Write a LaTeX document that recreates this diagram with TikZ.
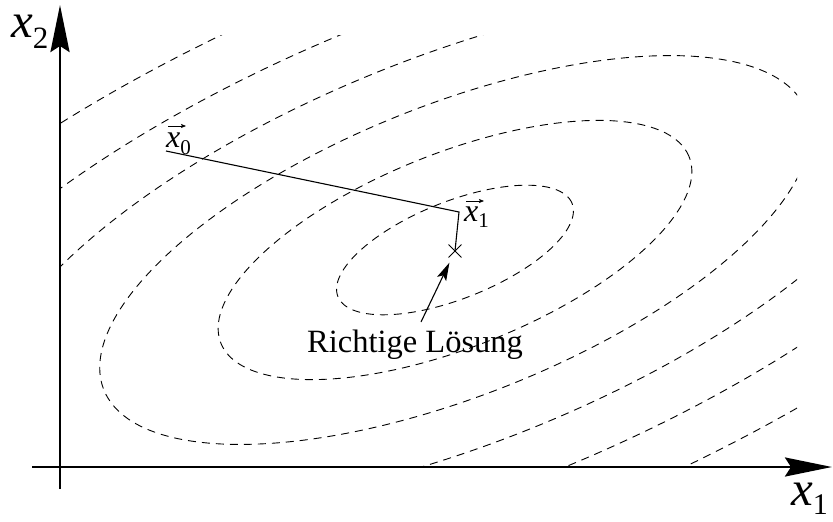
\documentclass[tikz,border=0pt]{standalone}
\usepackage{fontspec}
\setmainfont{Liberation Serif}
\usetikzlibrary{arrows.meta,shapes.misc}
\tikzset{
  contour/.style={line width=0.9pt, dash pattern=on 8pt off 6pt},
  axisline/.style={line width=2.6pt, -{Stealth[length=47pt,width=19pt,inset=6pt]}},
  pathline/.style={line width=1.1pt},
  pointer/.style={line width=1.1pt, -{Stealth[length=18pt,width=10pt,inset=4pt]}},
  vecarrow/.style={line width=0.8pt, -{Stealth[length=5pt,width=4pt,inset=1pt]}},
  biglabel/.style={anchor=base west, inner sep=0pt},
  smalllabel/.style={anchor=base west, inner sep=0pt},
}
\begin{document}
\begin{tikzpicture}[x=1pt,y=-1pt]
\useasboundingbox (0,0) rectangle (833,522);
% contours
\begin{scope}
  \clip (60,35) rectangle (797,466);
  \foreach \k in {1,...,6}{
    \draw[contour] plot[domain=0:360, samples=240, smooth, variable=\t]
      ({455 + \k*(126*cos(\t)*cos(21.7) - 48.5*sin(\t)*sin(21.7))},
       {250 - \k*(126*cos(\t)*sin(21.7) + 48.5*sin(\t)*cos(21.7))});
  }
\end{scope}
% axes
\coordinate (ybot) at (60,489);
\coordinate (ytop) at (60,5);
\coordinate (xleft) at (32,467);
\coordinate (xright) at (832,467);
\draw[axisline] (ybot) -- (ytop);
\draw[axisline] (xleft) -- (xright);
\node[biglabel] (lx2) at (11,37) {\fontsize{49}{49}\selectfont\itshape x\raisebox{-12pt}{\fontsize{31}{31}\selectfont\upshape 2}};
\node[biglabel] (lx1) at (791,505) {\fontsize{49}{49}\selectfont\itshape x\raisebox{-9pt}{\fontsize{30}{30}\selectfont\upshape 1}};
% iteration path
\coordinate (p0) at (166,151);
\coordinate (p1) at (459,212);
\node[draw, cross out, minimum size=12pt, inner sep=0pt, line width=0.9pt] (sol) at (455,251) {};
\draw[pathline] (p0) -- (p1) -- (sol.center);
% vector labels
\node[smalllabel] (lx0) at (166,147) {\fontsize{32}{32}\selectfont\itshape x\raisebox{-7pt}{\fontsize{21}{21}\selectfont\upshape 0}};
\coordinate (a0s) at (168,126);
\coordinate (a0e) at (186,126);
\draw[vecarrow] (a0s) -- (a0e);
\node[smalllabel] (lx1v) at (464,221) {\fontsize{32}{32}\selectfont\itshape x\raisebox{-6pt}{\fontsize{21}{21}\selectfont\upshape 1}};
\coordinate (a1s) at (466,201);
\coordinate (a1e) at (484,201);
\draw[vecarrow] (a1s) -- (a1e);
% solution label
\node[anchor=base west, inner sep=0pt, font=\fontsize{32.5}{33}\selectfont] (txt) at (307,352) {Richtige Lösung};
\coordinate (ta) at (421,322);
\draw[pointer, shorten >=13pt] (ta) -- (sol.center);
\end{tikzpicture}
\end{document}
